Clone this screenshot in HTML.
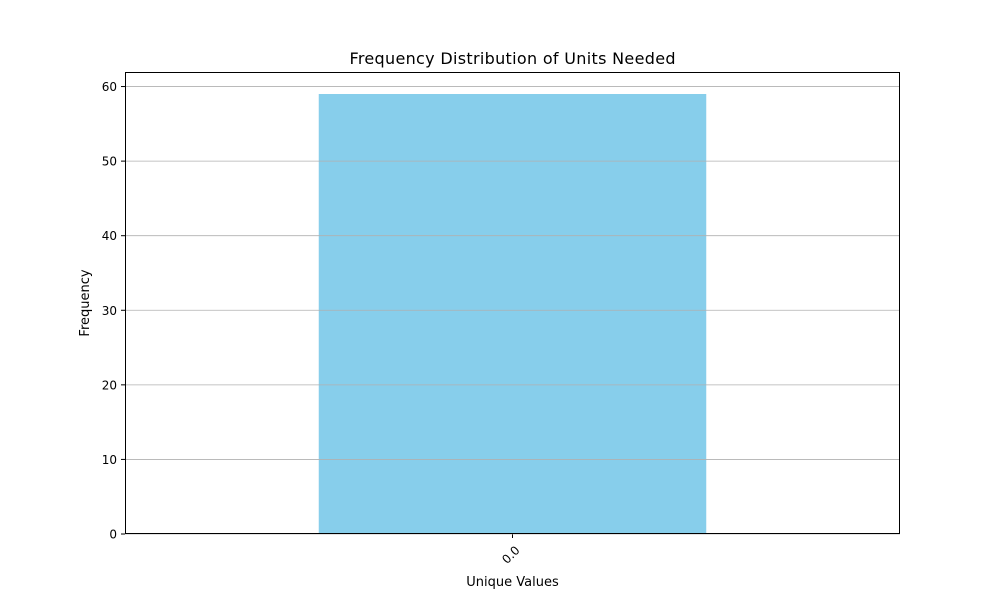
<!DOCTYPE html>
<html><head><meta charset="utf-8"><style>
html,body{margin:0;padding:0;background:#fff;}
svg text{font-family:"DejaVu Sans","Liberation Sans",sans-serif;}
</style></head><body>
<svg id="chart" width="1000" height="600" xmlns="http://www.w3.org/2000/svg">
<rect width="1000" height="600" fill="#fff"/>
<text x="512.5" y="64" text-anchor="middle" font-size="16" textLength="326" lengthAdjust="spacing">Frequency Distribution of Units Needed</text>
<g id="plot"></g>
<text x="512.5" y="586" text-anchor="middle" font-size="13">Unique Values</text>
<text transform="translate(89,303) rotate(-90)" text-anchor="middle" font-size="13">Frequency</text>
</svg>
<script>
const categories = ["0.0"];
const values = [59];
const yTicks = [0,10,20,30,40,50,60];
const L=125,R=900,T=72,B=534,yMax=61.95;
const ns="http://www.w3.org/2000/svg";
const g=document.getElementById('plot');
function y(v){return B-(v/yMax)*(B-T);}
function x(i){return L+(i+0.5)*(R-L)/categories.length;}
function mk(t,a){const e=document.createElementNS(ns,t);for(const k in a)e.setAttribute(k,a[k]);g.appendChild(e);return e;}
const bw=(R-L)/categories.length*0.5;
categories.forEach((c,i)=>{
  const r=mk('rect',{x:x(i)-bw/2,y:y(values[i]),width:bw,height:B-y(values[i]),fill:'#87ceeb'});
  
  
  const tk=mk('line',{x1:x(i),x2:x(i),y1:B,y2:B+4,stroke:'#000','stroke-width':1});
  
  
  const tl=mk('text',{transform:`translate(${x(i)+8},${B+17}) rotate(-45)`,'text-anchor':'end','font-size':12});
  tl.textContent=c;
  
  
});
yTicks.forEach(v=>{
  const gl=mk('line',{x1:L,x2:R,y1:y(v),y2:y(v),stroke:'#b0b0b0','stroke-width':0.8});
  
  
  const tk=mk('line',{x1:L-4,x2:L,y1:y(v),y2:y(v),stroke:'#000','stroke-width':1});
  
  
  const tl=mk('text',{x:L-8,y:y(v)+4.5,'text-anchor':'end','font-size':12});
  tl.textContent=v;
  
  
});
const fr=mk('rect',{x:L+0.5,y:T+0.5,width:R-L-1,height:B-T-1,fill:'none',stroke:'#000','stroke-width':1});


</script>
</body></html>
